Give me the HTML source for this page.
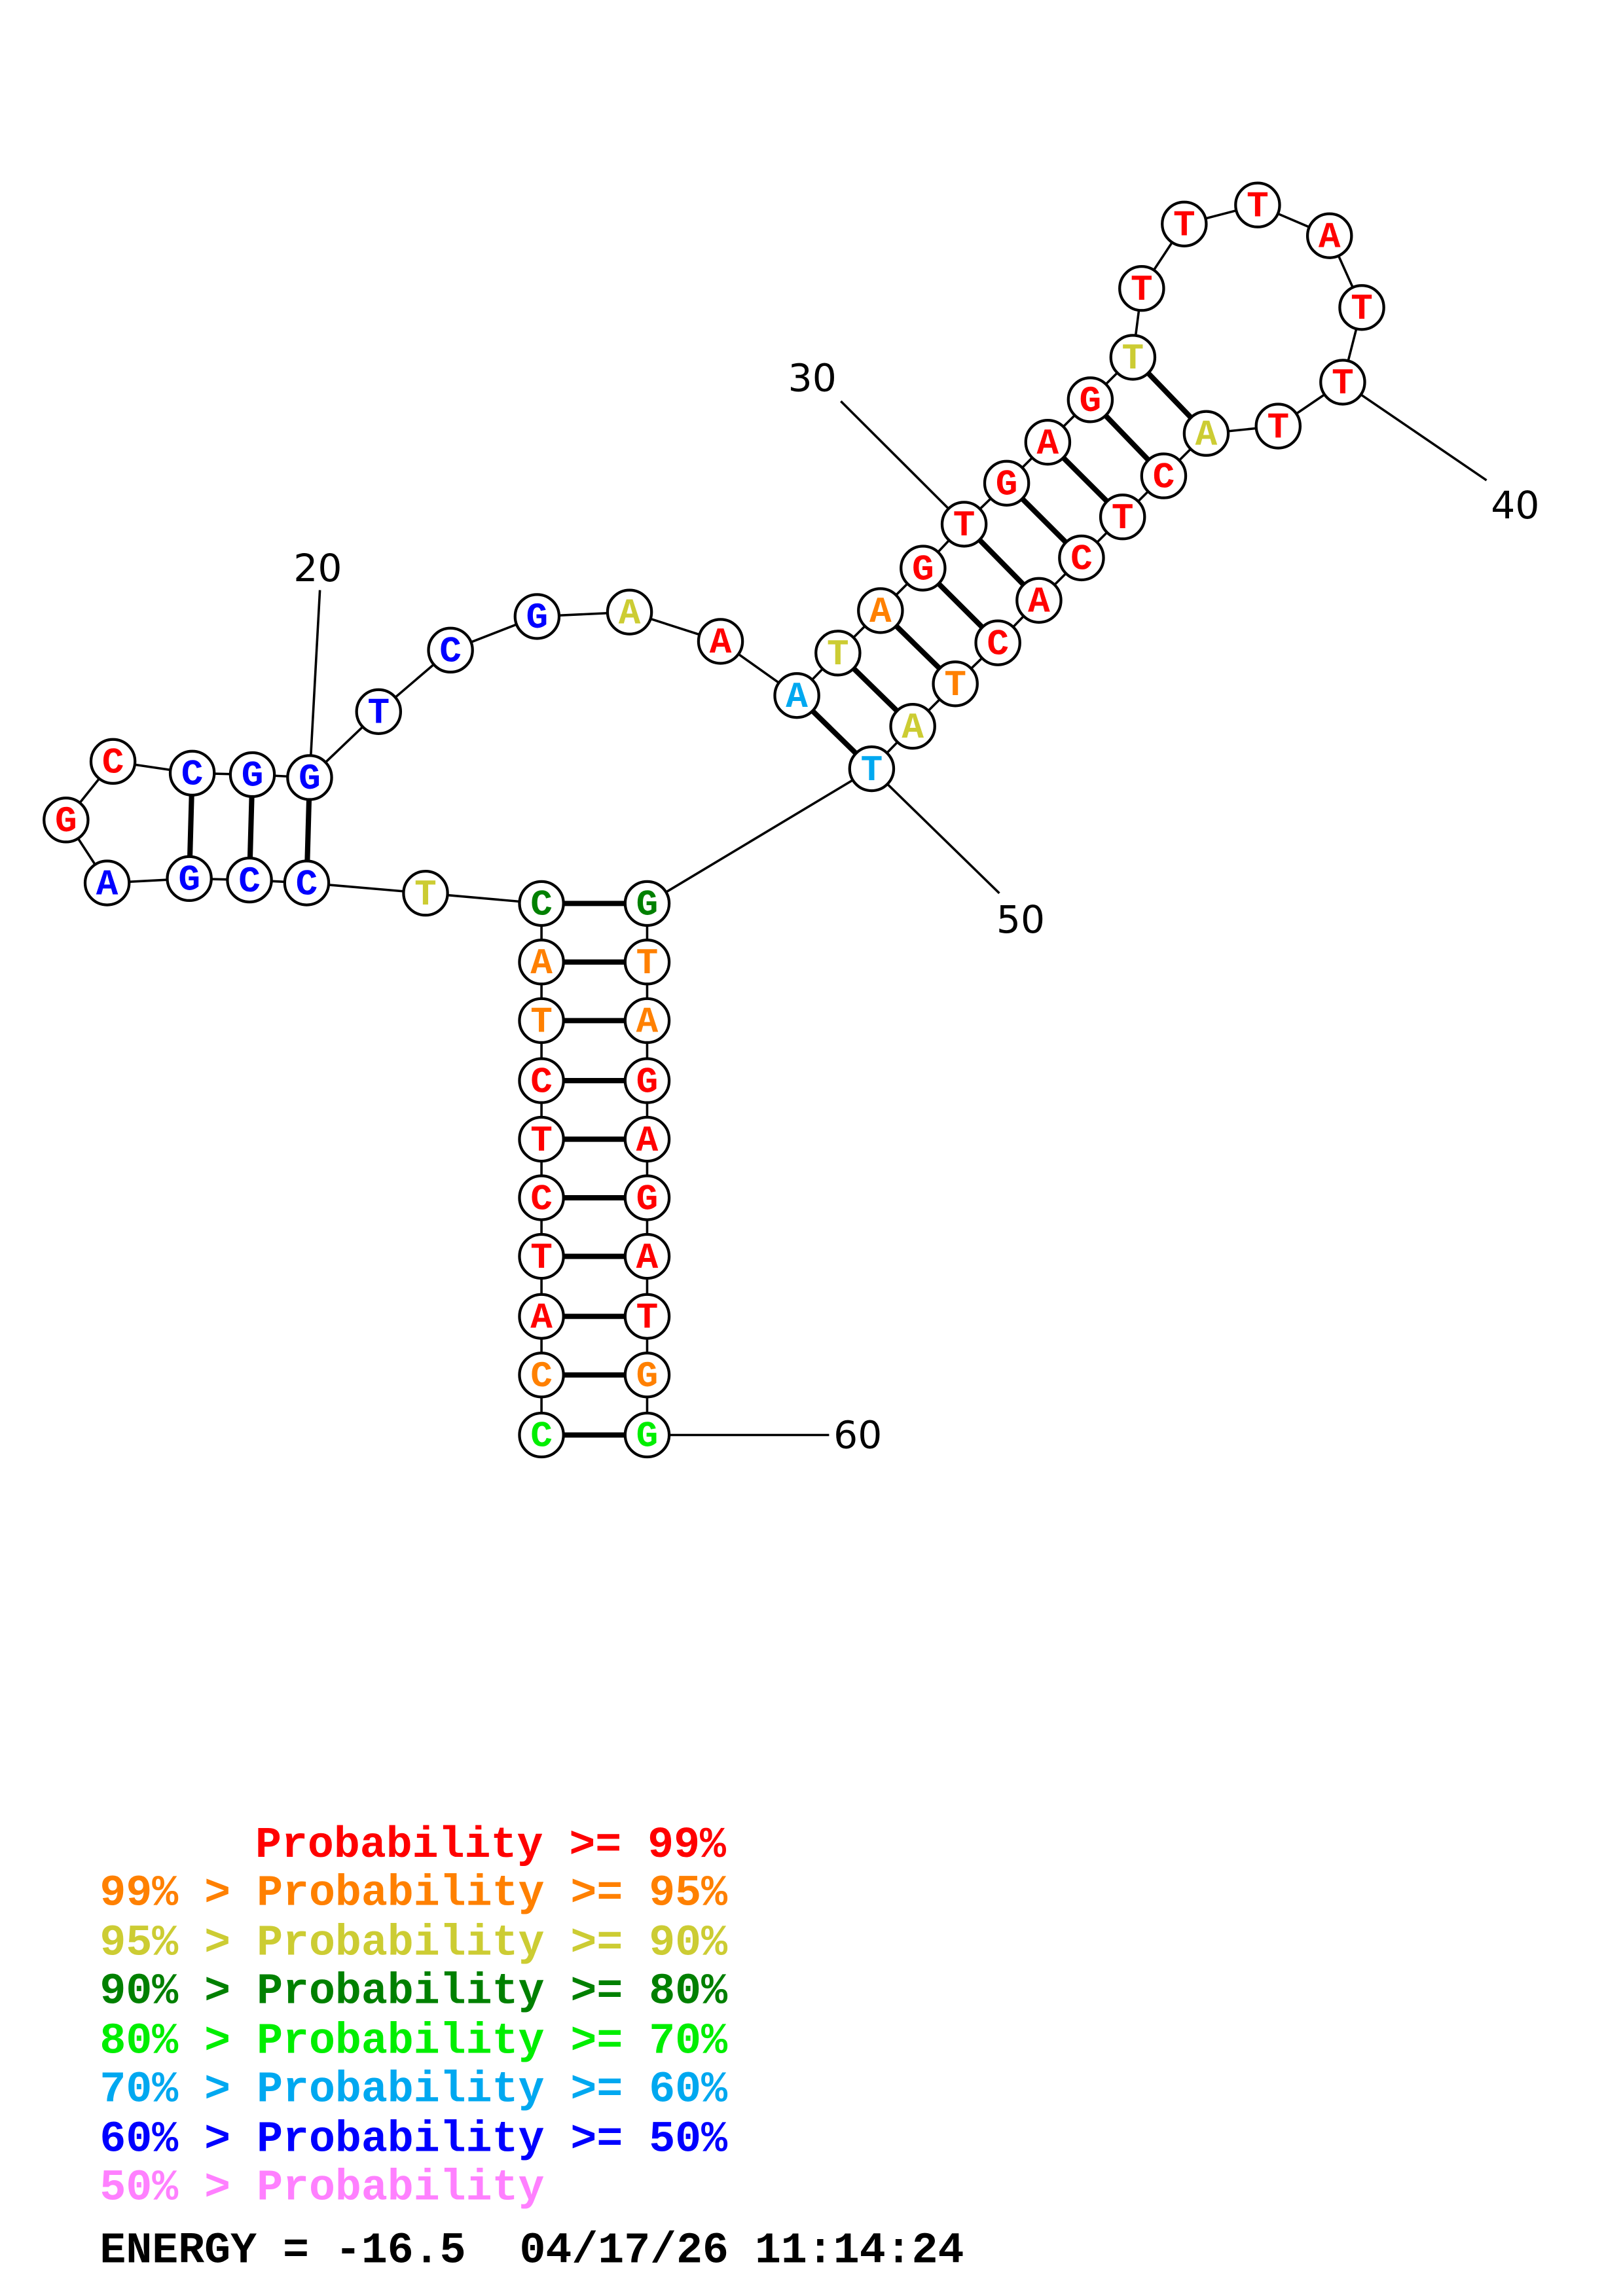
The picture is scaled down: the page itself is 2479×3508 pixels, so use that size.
<!DOCTYPE html>
<html><head><meta charset="utf-8"><style>
html,body{margin:0;padding:0;background:#fff}
svg{display:block}
.n{fill:#fff;stroke:#000;stroke-width:1.9}
.l{font-family:"Liberation Mono",monospace;font-weight:bold;font-size:25px;text-anchor:middle;dominant-baseline:central}
.lab{font-family:"DejaVu Sans","Liberation Sans",sans-serif;font-size:26px;fill:#000}
.lg{font-family:"Liberation Mono",monospace;font-weight:bold;font-size:29.7px}
</style></head><body>
<svg width="2479" height="3508" viewBox="0 0 1106 1568" preserveAspectRatio="none" xmlns="http://www.w3.org/2000/svg">
<g stroke="#000" stroke-width="1.6" fill="none">
<polyline points="369,980 369,617 290,610 209,603 170,601 129,600 73,603 45,560 77,520 131,528 172,529 211,531 258,486 307,444 366,421 429,418 491,438 543,475 571,446 600,417 629,388 657,358 686,330 714,302 743,273 772,244 778,197 807,153 857,140 906,161 928,210 915,261 871,291 822,296 793,325 765,353 737,381 708,410 680,439 651,467 622,496 594,525 441,617 441,980"/>
<line x1="211" y1="531" x2="218" y2="403"/>
<line x1="657" y1="358" x2="573" y2="274"/>
<line x1="915" y1="261" x2="1013" y2="328"/>
<line x1="594" y1="525" x2="681" y2="610"/>
<line x1="441" y1="980" x2="565" y2="980"/>
</g>
<g stroke="#000" stroke-width="3.6">
<line x1="131" y1="528" x2="129" y2="600"/><line x1="172" y1="529" x2="170" y2="601"/><line x1="211" y1="531" x2="209" y2="603"/>
<line x1="369" y1="617" x2="441" y2="617"/><line x1="369" y1="657" x2="441" y2="657"/><line x1="369" y1="697" x2="441" y2="697"/><line x1="369" y1="738" x2="441" y2="738"/><line x1="369" y1="778" x2="441" y2="778"/><line x1="369" y1="818" x2="441" y2="818"/><line x1="369" y1="858" x2="441" y2="858"/><line x1="369" y1="899" x2="441" y2="899"/><line x1="369" y1="939" x2="441" y2="939"/><line x1="369" y1="980" x2="441" y2="980"/>
<line x1="543" y1="475" x2="594" y2="525"/><line x1="571" y1="446" x2="622" y2="496"/><line x1="600" y1="417" x2="651" y2="467"/><line x1="629" y1="388" x2="680" y2="439"/><line x1="657" y1="358" x2="708" y2="410"/><line x1="686" y1="330" x2="737" y2="381"/><line x1="714" y1="302" x2="765" y2="353"/><line x1="743" y1="273" x2="793" y2="325"/><line x1="772" y1="244" x2="822" y2="296"/>
</g>
<g class="n">
<circle cx="45" cy="560" r="15"/><circle cx="77" cy="520" r="15"/><circle cx="131" cy="528" r="15"/><circle cx="172" cy="529" r="15"/><circle cx="211" cy="531" r="15"/><circle cx="258" cy="486" r="15"/><circle cx="307" cy="444" r="15"/><circle cx="366" cy="421" r="15"/><circle cx="429" cy="418" r="15"/><circle cx="491" cy="438" r="15"/><circle cx="543" cy="475" r="15"/><circle cx="571" cy="446" r="15"/><circle cx="600" cy="417" r="15"/><circle cx="629" cy="388" r="15"/><circle cx="657" cy="358" r="15"/><circle cx="686" cy="330" r="15"/><circle cx="714" cy="302" r="15"/><circle cx="743" cy="273" r="15"/><circle cx="772" cy="244" r="15"/><circle cx="778" cy="197" r="15"/><circle cx="807" cy="153" r="15"/><circle cx="857" cy="140" r="15"/><circle cx="906" cy="161" r="15"/><circle cx="928" cy="210" r="15"/><circle cx="915" cy="261" r="15"/><circle cx="871" cy="291" r="15"/><circle cx="822" cy="296" r="15"/><circle cx="793" cy="325" r="15"/><circle cx="765" cy="353" r="15"/><circle cx="737" cy="381" r="15"/><circle cx="708" cy="410" r="15"/><circle cx="680" cy="439" r="15"/><circle cx="651" cy="467" r="15"/><circle cx="622" cy="496" r="15"/><circle cx="594" cy="525" r="15"/>
<circle cx="290" cy="610" r="15"/><circle cx="209" cy="603" r="15"/><circle cx="170" cy="601" r="15"/><circle cx="129" cy="600" r="15"/><circle cx="73" cy="603" r="15"/>
<circle cx="369" cy="617" r="15"/><circle cx="369" cy="657" r="15"/><circle cx="369" cy="697" r="15"/><circle cx="369" cy="738" r="15"/><circle cx="369" cy="778" r="15"/><circle cx="369" cy="818" r="15"/><circle cx="369" cy="858" r="15"/><circle cx="369" cy="899" r="15"/><circle cx="369" cy="939" r="15"/><circle cx="369" cy="980" r="15"/>
<circle cx="441" cy="617" r="15"/><circle cx="441" cy="657" r="15"/><circle cx="441" cy="697" r="15"/><circle cx="441" cy="738" r="15"/><circle cx="441" cy="778" r="15"/><circle cx="441" cy="818" r="15"/><circle cx="441" cy="858" r="15"/><circle cx="441" cy="899" r="15"/><circle cx="441" cy="939" r="15"/><circle cx="441" cy="980" r="15"/>
</g>
<g class="l">
<text x="45" y="561" fill="#f00">G</text><text x="77" y="521" fill="#f00">C</text><text x="131" y="529" fill="#00f">C</text><text x="172" y="530" fill="#00f">G</text><text x="211" y="532" fill="#00f">G</text><text x="258" y="487" fill="#00f">T</text><text x="307" y="445" fill="#00f">C</text><text x="366" y="422" fill="#00f">G</text><text x="429" y="419" fill="#cccc33">A</text><text x="491" y="439" fill="#f00">A</text><text x="543" y="476" fill="#00a8f0">A</text><text x="571" y="447" fill="#cccc33">T</text><text x="600" y="418" fill="#ff8000">A</text><text x="629" y="389" fill="#f00">G</text><text x="657" y="359" fill="#f00">T</text><text x="686" y="331" fill="#f00">G</text><text x="714" y="303" fill="#f00">A</text><text x="743" y="274" fill="#f00">G</text><text x="772" y="245" fill="#cccc33">T</text><text x="778" y="198" fill="#f00">T</text><text x="807" y="154" fill="#f00">T</text><text x="857" y="141" fill="#f00">T</text><text x="906" y="162" fill="#f00">A</text><text x="928" y="211" fill="#f00">T</text><text x="915" y="262" fill="#f00">T</text><text x="871" y="292" fill="#f00">T</text><text x="822" y="297" fill="#cccc33">A</text><text x="793" y="326" fill="#f00">C</text><text x="765" y="354" fill="#f00">T</text><text x="737" y="382" fill="#f00">C</text><text x="708" y="411" fill="#f00">A</text><text x="680" y="440" fill="#f00">C</text><text x="651" y="468" fill="#ff8000">T</text><text x="622" y="497" fill="#cccc33">A</text><text x="594" y="526" fill="#00a8f0">T</text>
<text x="290" y="611" fill="#cccc33">T</text><text x="209" y="604" fill="#00f">C</text><text x="170" y="602" fill="#00f">C</text><text x="129" y="601" fill="#00f">G</text><text x="73" y="604" fill="#00f">A</text>
<text x="369" y="618" fill="#008000">C</text><text x="369" y="658" fill="#ff8000">A</text><text x="369" y="698" fill="#ff8000">T</text><text x="369" y="739" fill="#f00">C</text><text x="369" y="779" fill="#f00">T</text><text x="369" y="819" fill="#f00">C</text><text x="369" y="859" fill="#f00">T</text><text x="369" y="900" fill="#f00">A</text><text x="369" y="940" fill="#ff8000">C</text><text x="369" y="981" fill="#00ee00">C</text>
<text x="441" y="618" fill="#008000">G</text><text x="441" y="658" fill="#ff8000">T</text><text x="441" y="698" fill="#ff8000">A</text><text x="441" y="739" fill="#f00">G</text><text x="441" y="779" fill="#f00">A</text><text x="441" y="819" fill="#f00">G</text><text x="441" y="859" fill="#f00">A</text><text x="441" y="900" fill="#f00">T</text><text x="441" y="940" fill="#ff8000">G</text><text x="441" y="981" fill="#00ee00">G</text>
</g>
<g class="lab">
<text x="200" y="397">20</text><text x="537" y="267">30</text><text x="1016" y="354">40</text><text x="679" y="637">50</text><text x="568" y="989">60</text>
</g>
<g class="lg">
<text x="174" y="1268" fill="#f00">Probability &gt;= 99%</text>
<text x="68" y="1301" fill="#ff8000">99% &gt; Probability &gt;= 95%</text>
<text x="68" y="1335" fill="#cccc33">95% &gt; Probability &gt;= 90%</text>
<text x="68" y="1368" fill="#008000">90% &gt; Probability &gt;= 80%</text>
<text x="68" y="1402" fill="#00ee00">80% &gt; Probability &gt;= 70%</text>
<text x="68" y="1435" fill="#00a8f0">70% &gt; Probability &gt;= 60%</text>
<text x="68" y="1469" fill="#00f">60% &gt; Probability &gt;= 50%</text>
<text x="68" y="1502" fill="#ff80ff">50% &gt; Probability</text>
<text x="68" y="1545" fill="#000">ENERGY = -16.5</text>
<text x="354" y="1545" fill="#000">04/17/26 11:14:24</text>
</g>
</svg>
</body></html>
